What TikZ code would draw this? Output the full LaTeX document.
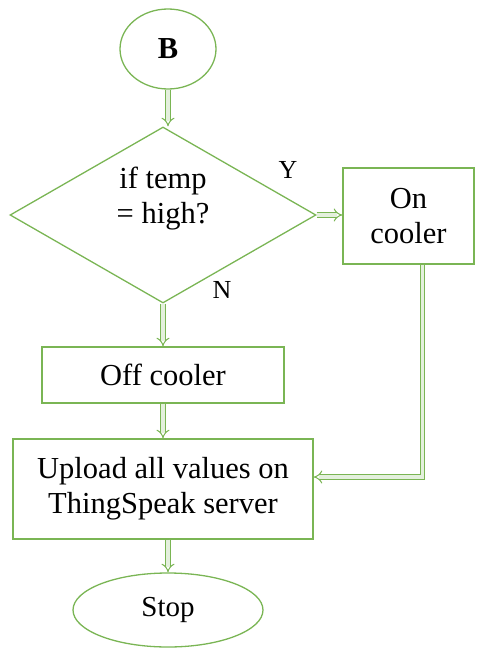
\documentclass[tikz,border=0pt]{standalone}
\usepackage{fontspec}
\setmainfont{Liberation Serif}
\usetikzlibrary{arrows.meta,shapes.geometric}
\definecolor{fgreen}{RGB}{122,181,84}

\begin{document}
\begin{tikzpicture}[x=1pt,y=-1pt,
    font=\fontsize{30.5}{35}\selectfont,
    box/.style={draw=fgreen,line width=1.3pt,align=center,inner sep=0pt},
    flow/.style={draw=fgreen,line width=1pt,double=fgreen!20,double distance=3.5pt,-{Implies[length=2pt]}}]
  \useasboundingbox (0,0) rectangle (485,648);
  \node[box,ellipse,minimum width=96pt,minimum height=80pt] (B) at (168,49) {\textbf{B}};
  \node[box,diamond,minimum width=306pt,minimum height=176pt] (dec) at (163,215) {};
  \node[align=center] (ift) at (163,199) {if temp\\= high?};
  \node[box,minimum width=131pt,minimum height=96pt] (on) at (408.5,216) {On\\cooler};
  \node[box,minimum width=242pt,minimum height=56pt] (off) at (163,375) {Off cooler};
  \node[box,minimum width=300pt,minimum height=100pt] (up) at (163,489) {Upload all values on\\ThingSpeak server};
  \node[box,ellipse,minimum width=190pt,minimum height=74pt,font=\fontsize{29}{33}\selectfont] (stop) at (168,610) {Stop};
  \node[font=\fontsize{26}{30}\selectfont] (yes) at (288,170) {Y};
  \node[font=\fontsize{26}{30}\selectfont] (no) at (222,290) {N};
  \draw[flow] (B.south) -- (B.south |- dec.north);
  \draw[flow] (dec.east) -- (dec.east -| on.west);
  \draw[flow] (dec.south) -- (off.north);
  \draw[flow] (off.south) -- (up.north);
  \draw[flow] ([xshift=14pt]on.south) |- ([yshift=12pt]up.east);
  \draw[flow] (up.south -| stop.north) -- (stop.north);
\end{tikzpicture}
\end{document}
